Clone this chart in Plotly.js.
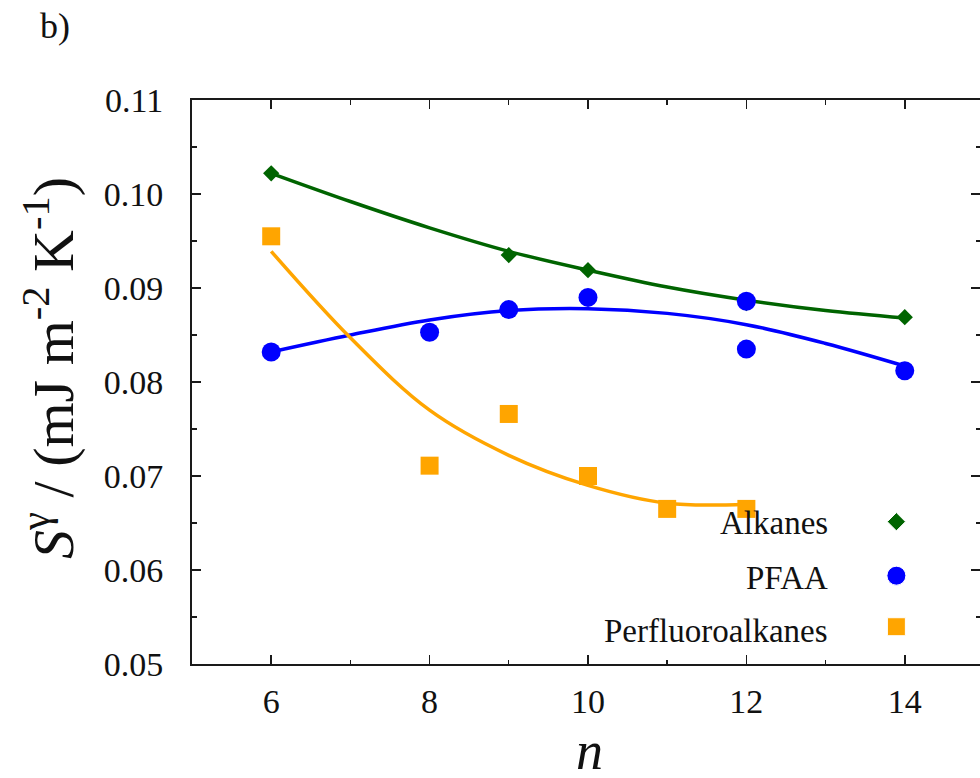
<!DOCTYPE html>
<html>
<head>
<meta charset="utf-8">
<script src="https://cdn.plot.ly/plotly-3.0.1.min.js"></script>
<style>
  html, body { margin: 0; overflow: hidden; }
</style>
</head>
<body>
<div id="chart" style="width:980px;height:778px"></div>
<script>
// ---- data ----
var nAlkanes = [6, 9, 10, 12, 14];
var sAlkanes = [0.1022, 0.0935, 0.0919, 0.0884, 0.0869];

var nPFAA = [6, 8, 9, 10, 12, 12, 14];
var sPFAA = [0.0832, 0.0853, 0.0877, 0.0890, 0.0886, 0.0835, 0.0812];

var nPerfluoro = [6, 8, 9, 10, 11, 12];
var sPerfluoro = [0.0955, 0.0711, 0.0766, 0.0700, 0.0665, 0.0665];

// fitted curves
var fitN = [6, 7, 8, 9, 10, 11, 12, 13, 14];
var fitAlkanes = [0.1022, 0.0992, 0.0964, 0.0939, 0.0919, 0.0901, 0.0887, 0.0876, 0.0868];
var fitPFAA = [0.0832, 0.0850, 0.0866, 0.0876, 0.0878, 0.0873, 0.0861, 0.0841, 0.0817];
var fitNPerfluoro = [6, 7, 8, 9, 10, 11, 12];
var fitPerfluoro = [0.0939, 0.0847, 0.0770, 0.0722, 0.0690, 0.0671, 0.0670];

var seriesNames = ['Alkanes', 'PFAA', 'Perfluoroalkanes'];
var xTickVals = [6, 8, 10, 12, 14];
var yTickVals = [0.05, 0.06, 0.07, 0.08, 0.09, 0.10, 0.11];
var xTitle = '<i>n</i>';
var yTitle = '<i>S</i><sup>γ</sup> / (mJ m<sup>-2</sup> K<sup>-1</sup>)';

// ---- styling ----
var GREEN = '#006400', BLUE = '#0000ff', ORANGE = '#ffa500';
var SERIF = 'Times New Roman';
var AX = '#1a1a1a';

var traces = [
  {x: fitN, y: fitAlkanes, mode: 'lines', line: {color: GREEN, width: 3.5, shape: 'spline'}, hoverinfo: 'skip'},
  {x: fitN, y: fitPFAA, mode: 'lines', line: {color: BLUE, width: 3.5, shape: 'spline'}, hoverinfo: 'skip'},
  {x: fitNPerfluoro, y: fitPerfluoro, mode: 'lines', line: {color: ORANGE, width: 3.5, shape: 'spline'}, hoverinfo: 'skip'},
  {x: nAlkanes, y: sAlkanes, mode: 'markers', name: seriesNames[0],
   marker: {symbol: 'diamond', size: 12.5, color: GREEN, opacity: 1}},
  {x: nPFAA, y: sPFAA, mode: 'markers', name: seriesNames[1],
   marker: {symbol: 'circle', size: 19, color: BLUE, opacity: 1}},
  {x: nPerfluoro, y: sPerfluoro, mode: 'markers', name: seriesNames[2],
   marker: {symbol: 'square', size: 18, color: ORANGE, opacity: 1}},
  // legend key markers, on an overlay axis spanning the plot area [0,1]
  {x: [0.8939, 0.8939, 0.8939], y: [0.2523, 0.1566, 0.0661], xaxis: 'x2', yaxis: 'y2',
   mode: 'markers', hoverinfo: 'skip',
   marker: {symbol: ['diamond', 'circle', 'square'], size: [14, 19, 18],
            color: [GREEN, BLUE, ORANGE], opacity: 1}}
];

function axisBase() {
  return {
    showline: true, linecolor: AX, linewidth: 2, mirror: 'allticks',
    ticks: 'inside', ticklen: 9, tickwidth: 1.6, tickcolor: AX,
    showgrid: false, zeroline: false,
    tickfont: {family: SERIF, size: 34},
    minor: {ticks: 'inside', ticklen: 4.5, tickwidth: 1.4, tickcolor: AX, showgrid: false}
  };
}

var xaxis = axisBase();
Object.assign(xaxis, {range: [5, 14.95], tickvals: xTickVals, ticklabelstandoff: 6});
xaxis.minor.dtick = 1; xaxis.minor.tick0 = 5;

var yaxis = axisBase();
Object.assign(yaxis, {range: [0.05, 0.11], tickvals: yTickVals, tickformat: '.2f', ticklabelstandoff: 20});
yaxis.minor.dtick = 0.005; yaxis.minor.tick0 = 0.05;

var layout = {
  width: 980, height: 778,
  margin: {l: 192, r: 0, t: 100, b: 114},
  showlegend: false,
  font: {family: SERIF, color: '#111'},
  xaxis: xaxis, yaxis: yaxis,
  xaxis2: {overlaying: 'x', range: [0, 1], visible: false, anchor: 'y2'},
  yaxis2: {overlaying: 'y', range: [0, 1], visible: false, anchor: 'x2'},
  annotations: [
    {xref: 'paper', yref: 'paper', x: 0.5049, y: -0.155, xanchor: 'center', yanchor: 'middle',
     text: xTitle, showarrow: false, font: {family: SERIF, size: 54}},
    {xref: 'paper', yref: 'paper', x: -0.1802, y: 0.525, xanchor: 'center', yanchor: 'middle',
     textangle: -90, text: yTitle, showarrow: false, font: {family: SERIF, size: 58}},
    {xref: 'paper', yref: 'paper', x: -0.1954, y: 1.131, xanchor: 'left', yanchor: 'middle',
     text: 'b)', showarrow: false, font: {family: SERIF, size: 36}},
    {xref: 'paper', yref: 'paper', x: 0.8096, y: 0.250, xanchor: 'right', yanchor: 'middle',
     text: seriesNames[0], showarrow: false, font: {family: SERIF, size: 33}},
    {xref: 'paper', yref: 'paper', x: 0.8096, y: 0.1525, xanchor: 'right', yanchor: 'middle',
     text: seriesNames[1], showarrow: false, font: {family: SERIF, size: 33}},
    {xref: 'paper', yref: 'paper', x: 0.8096, y: 0.0585, xanchor: 'right', yanchor: 'middle',
     text: seriesNames[2], showarrow: false, font: {family: SERIF, size: 33}}
  ]
};

Plotly.newPlot('chart', traces, layout, {staticPlot: true});
</script>
</body>
</html>
